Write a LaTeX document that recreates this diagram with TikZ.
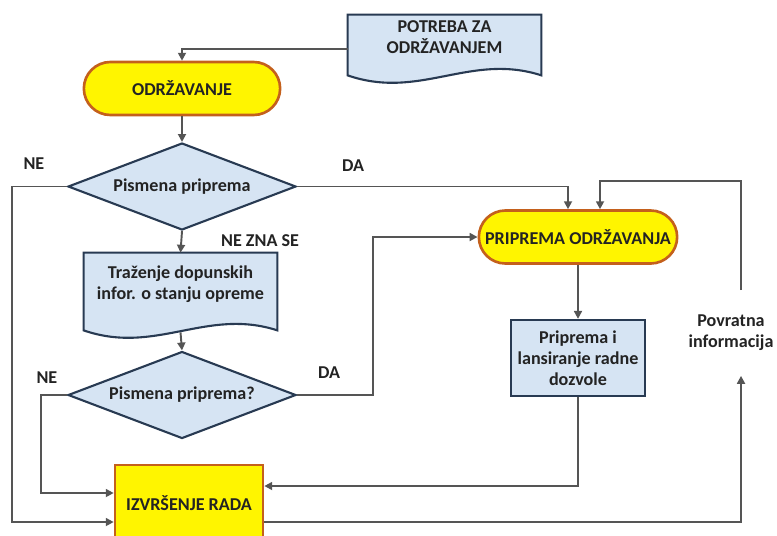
\documentclass[tikz,border=0pt]{standalone}
\usepackage{fontspec}
\setmainfont{Carlito}
\usetikzlibrary{shapes.misc,shapes.geometric,arrows.meta,backgrounds}
\definecolor{boxblue}{RGB}{214,228,243}
\definecolor{boxline}{RGB}{40,58,82}
\definecolor{pillyellow}{RGB}{255,245,0}
\definecolor{pillline}{RGB}{196,96,28}
\definecolor{wire}{RGB}{85,85,85}
\definecolor{labtext}{RGB}{35,35,35}
\newcommand{\lab}[1]{\fontsize{10.3pt}{12pt}\selectfont\bfseries #1}
\newcommand{\docwave}[2]{%
  \begin{pgfonlayer}{background}
  \filldraw[fill=boxblue,draw=boxline,line width=1.2pt] (#1.north west) -- (#1.north east)
     -- ([yshift=-#2]#1.south east)
     .. controls +(-1.42,0.46) and +(1.44,-0.5) .. ([yshift=-#2]#1.south west) -- cycle;
  \end{pgfonlayer}}

\begin{document}
\begin{tikzpicture}[every node/.style={text=labtext},
  pill/.style={rounded rectangle,draw=pillline,fill=pillyellow,line width=1.5pt,minimum height=1.06cm},
  docbox/.style={rectangle,minimum width=3.86cm,inner sep=0pt,align=center},
  choice/.style={diamond,aspect=2.62,draw=boxline,fill=boxblue,line width=1.2pt,inner sep=0pt,
                 minimum width=4.56cm,minimum height=1.74cm},
  arr/.style={-{Triangle[length=4.5pt,width=4.5pt]},draw=wire,line width=1.1pt}]
 \clip (0,0) rectangle (15.54,-10.7);

 \draw (8.89,-0.75)  node[docbox,minimum height=0.9cm] (potreba)
              {\lab{POTREBA ZA}\\ \lab{ODRŽAVANJEM}};
 \docwave{potreba}{0.3cm}

 \draw (3.64,-1.77)  node[pill,minimum width=4.16cm] (odrz)
              {\lab{ODRŽAVANJE}};

 \draw (3.64,-3.73)  node[choice] (pis1)
              {\lab{Pismena priprema}};

 \draw (3.61,-5.68)  node[docbox,minimum height=1.24cm] (trazenje)
              {\lab{Traženje dopunskih}\\ \lab{infor. o stanju opreme}};
 \docwave{trazenje}{0.3cm}

 \draw (3.64,-7.9)  node[choice] (pis2)
              {\lab{Pismena priprema?}};

 \draw (11.56,-4.74)  node[pill,minimum width=4.2cm] (pripr)
              {\lab{PRIPREMA ODRŽAVANJA}};

 \draw (11.56,-7.16)  node[rectangle,draw=boxline,fill=boxblue,line width=1.3pt,
              minimum width=2.68cm,minimum height=1.52cm,align=center] (dozvola)
              {\lab{Priprema i}\\ \lab{lansiranje radne}\\ \lab{dozvole}};

 \draw (3.78,-10.06)  node[rectangle,draw=pillline,fill=pillyellow,line width=1.5pt,
              minimum width=2.96cm,minimum height=1.52cm] (izvrsenje)
              {\lab{IZVRŠENJE RADA}};

 \draw (14.62,-6.66)  node[align=center,inner sep=0pt,minimum height=1.7cm] (povratna)
              {\lab{Povratna}\\ \lab{informacija}};

 \path (pis1.west) ++(-0.66,0.46) node (ne1) {\lab{NE}};
 \path (pis1.east) ++(1.12,0.42) node (da1) {\lab{DA}};
 \path (pis1.south) ++(1.56,-0.2) node (nezna) {\lab{NE ZNA SE}};
 \path (pis2.west) ++(-0.4,0.34) node (ne2) {\lab{NE}};
 \path (pis2.east) ++(0.64,0.44) node (da2) {\lab{DA}};

 \draw[arr] ([yshift=-0.23cm]potreba.west) -| (odrz.north);
 \draw[arr] (odrz.south) -- (pis1.north);
 \draw[arr] (pis1.west) -- ++(-1.1,0) |- ([yshift=-0.38cm]izvrsenje.west);
 \draw[arr] (pis1.east) -| ([xshift=-0.2cm]pripr.north);
 \draw[arr] (pis1.south) -- (trazenje.north);
 \draw[arr] ([yshift=-0.34cm]trazenje.south) -- (pis2.north);
 \draw[arr] (pis2.west) -- ++(-0.52,0) |- ([yshift=0.2cm]izvrsenje.west);
 \draw[arr] (pis2.east) -- ++(1.52,0) |- (pripr.west);
 \draw[arr] (pripr.south) -- (dozvola.north);
 \draw[arr] (dozvola.south) |- ([yshift=0.34cm]izvrsenje.east);
 \draw[arr] ([yshift=-0.38cm]izvrsenje.east) -| ([xshift=0.2cm]povratna.south);
 \draw[arr] ([xshift=0.2cm]povratna.north) -- ++(0,2.18) -| ([xshift=0.44cm]pripr.north);

\end{tikzpicture}
\end{document}
